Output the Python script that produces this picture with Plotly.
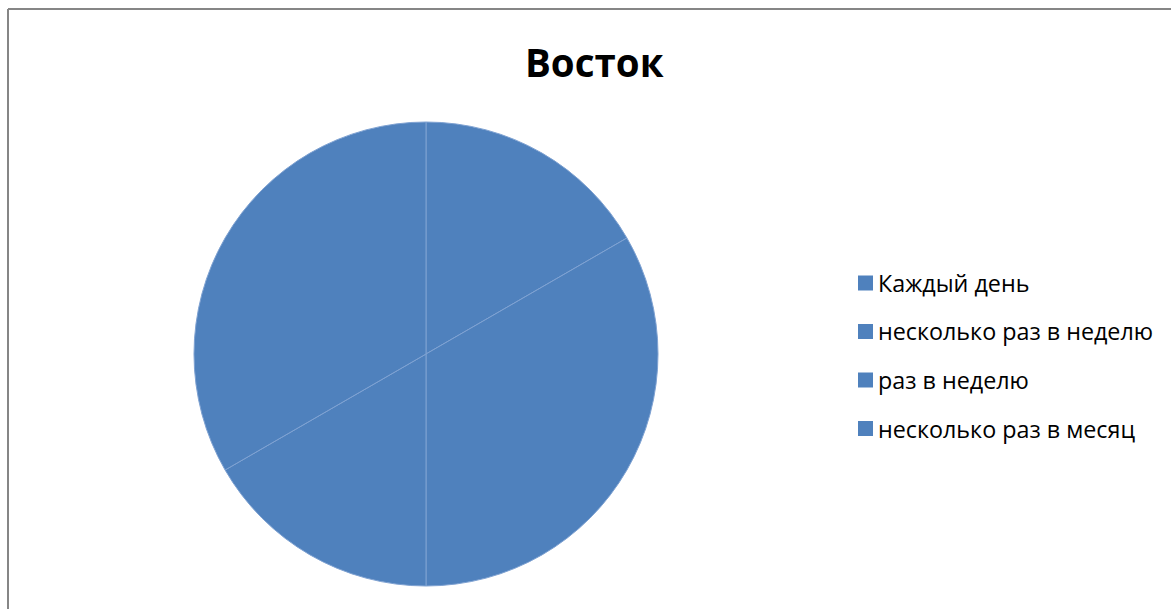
import plotly.graph_objects as go

title = "Восток"
labels = ["Каждый день", "несколько раз в неделю", "раз в неделю", "несколько раз в месяц"]
values = [1, 2, 1, 2]
color = "#4F81BD"

W, H = 1171, 609
cx, cy, r = 426, 354, 232

fig = go.Figure()
fig.add_trace(go.Pie(
    labels=labels, values=values, sort=False, direction="clockwise", rotation=0,
    marker=dict(colors=[color] * len(labels), line=dict(color="#7FA2D2", width=1)),
    textinfo="none", hoverinfo="label+value", showlegend=False,
    domain=dict(x=[(cx - r) / W, (cx + r) / W], y=[1 - (cy + r) / H, 1 - (cy - r) / H]),
))

shapes = [
    dict(type="line", xref="paper", yref="paper", x0=8 / W, x1=1.01, y0=1 - 9 / H, y1=1 - 9 / H,
         line=dict(color="#868686", width=2)),
    dict(type="line", xref="paper", yref="paper", x0=8 / W, x1=8 / W, y0=1 - 9 / H, y1=-0.01,
         line=dict(color="#868686", width=2)),
]
annotations = [dict(text="<b>" + title + "</b>", x=594 / W, y=1 - 62 / H, xref="paper", yref="paper",
                    showarrow=False, font=dict(family="Open Sans", size=38.5, color="#000000"),
                    xanchor="center", yanchor="middle")]
y0, dy = 283, 48.5
for i, lab in enumerate(labels):
    yc = y0 + i * dy
    shapes.append(dict(type="rect", xref="paper", yref="paper",
                       x0=858 / W, x1=873 / W, y0=1 - (yc + 7.5) / H, y1=1 - (yc - 7.5) / H,
                       fillcolor=color, line=dict(width=0)))
    annotations.append(dict(text=lab, x=876 / W, y=1 - yc / H, xref="paper", yref="paper",
                            showarrow=False, xanchor="left", yanchor="middle",
                            font=dict(family="Open Sans", size=23.3, color="#000000")))

fig.update_layout(
    width=W, height=H, margin=dict(l=0, r=0, t=0, b=0),
    paper_bgcolor="white", plot_bgcolor="white",
    shapes=shapes, annotations=annotations,
)
fig.write_html("out.html")
